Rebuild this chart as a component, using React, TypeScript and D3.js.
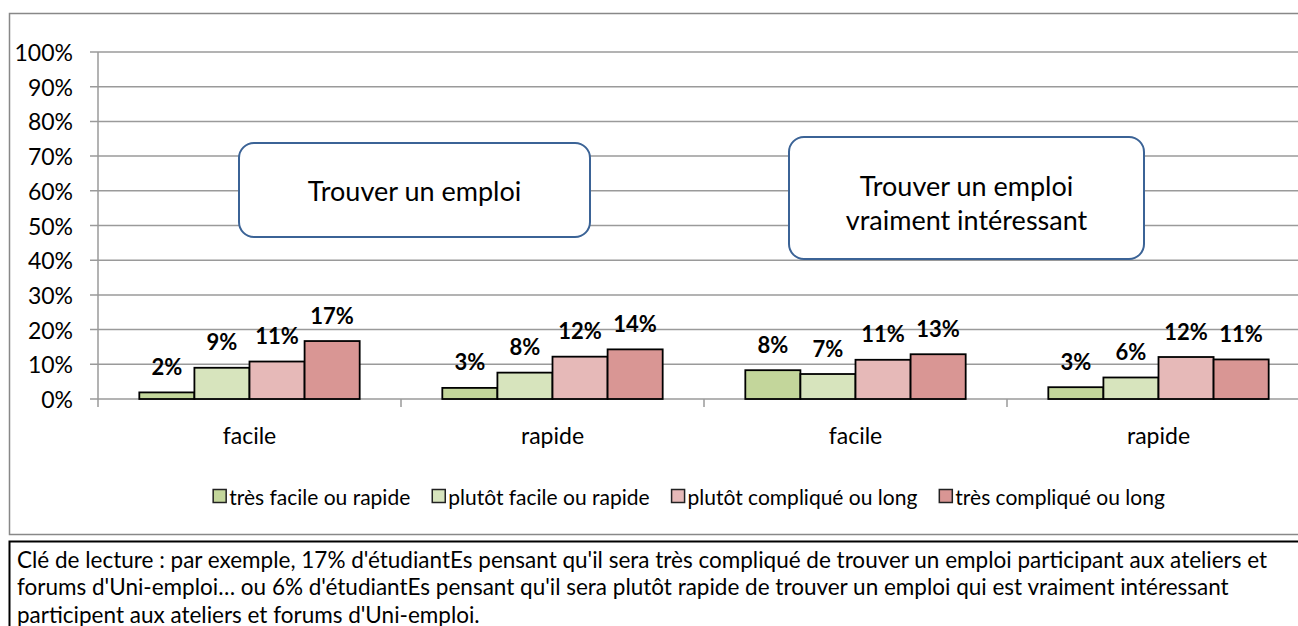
import React from "react";
import * as d3 from "d3";

const categories = ["facile", "rapide", "facile", "rapide"];
const seriesNames = [
  "très facile ou rapide",
  "plutôt facile ou rapide",
  "plutôt compliqué ou long",
  "très compliqué ou long",
];
const tresFacile = [1.9, 3.2, 8.3, 3.4];
const plutotFacile = [9.0, 7.6, 7.2, 6.2];
const plutotComplique = [10.8, 12.2, 11.3, 12.1];
const tresComplique = [16.7, 14.3, 12.9, 11.4];
const seriesColors = ["#C3D69B", "#D7E4BD", "#E6B9B8", "#D99694"];
const yTicks = [0, 10, 20, 30, 40, 50, 60, 70, 80, 90, 100];
const calloutTitles = [["Trouver un emploi"], ["Trouver un emploi", "vraiment intéressant"]];
const footnoteLines = [
  "Clé de lecture : par exemple, 17% d'étudiantEs pensant qu'il sera très compliqué de trouver un emploi participant aux ateliers et",
  "forums d'Uni-emploi… ou 6% d'étudiantEs pensant qu'il sera plutôt rapide de trouver un emploi qui est vraiment intéressant",
  "participent aux ateliers et forums d'Uni-emploi.",
];

const W = 1298;
const H = 626;
const FONT = "Lato, 'Open Sans', sans-serif";
const LEGEND_FS = 21;

function measure(text: string, size: number): number {
  if (typeof document === "undefined") return text.length * size * 0.45;
  const c = document.createElement("canvas").getContext("2d");
  if (!c) return text.length * size * 0.45;
  c.font = `${size}px Lato`;
  return c.measureText(text).width;
}

export default function App() {
  const values = [tresFacile, plutotFacile, plutotComplique, tresComplique];
  const plotLeft = 98;
  const plotRight = 1310;
  const plotTop = 52;
  const plotBottom = 399;

  const x0 = d3
    .scaleBand<number>()
    .domain(categories.map((_, i) => i))
    .range([plotLeft, plotRight])
    .paddingInner(0)
    .paddingOuter(0);
  const x1 = d3
    .scaleBand<number>()
    .domain(seriesNames.map((_, i) => i))
    .range([0, x0.bandwidth()])
    .paddingInner(0)
    .paddingOuter(0.75);
  const y = d3.scaleLinear().domain([0, 100]).range([plotBottom, plotTop]);
  const fmt = (v: number) => `${Math.round(v)}%`;

  const boundaries = d3.range(categories.length + 1).map((i) =>
    i < categories.length ? (x0(i) as number) : plotRight
  );

  const callouts = [
    { x: 239, y: 143, w: 351, h: 94, cy: 190 },
    { x: 789, y: 137, w: 355, h: 122, cy: 202 },
  ];

  // legend layout: square, small gap, text, gap between items, centred
  const sq = 13;
  const sqGap = 3;
  const itemGap = 22;
  const widths = seriesNames.map((s) => measure(s, LEGEND_FS));
  const total =
    widths.reduce((a, b) => a + b, 0) + seriesNames.length * (sq + sqGap) + (seriesNames.length - 1) * itemGap;
  const legendCenter = 689;
  let cursor = legendCenter - total / 2;
  const legendItems = widths.map((w) => {
    const item = { sq: cursor, tx: cursor + sq + sqGap };
    cursor += sq + sqGap + w + itemGap;
    return item;
  });

  return (
    <svg
      width={W}
      height={H}
      style={{ position: "absolute", left: 0, top: 0, background: "#fff" }}
      fontFamily={FONT}
    >
      <rect x={0} y={0} width={W} height={H} fill="#fff" />
      {/* chart border */}
      <rect x={9.5} y={13.5} width={1320} height={521} fill="#fff" stroke="#888" strokeWidth={1.5} />

      {/* gridlines */}
      {yTicks.map((t) => (
        <line
          key={"g" + t}
          x1={plotLeft - 8}
          x2={plotRight}
          y1={y(t)}
          y2={y(t)}
          stroke="#9a9a9a"
          strokeWidth={1.5}
        />
      ))}
      {/* y axis */}
      <line x1={plotLeft} x2={plotLeft} y1={plotTop} y2={plotBottom + 8} stroke="#9a9a9a" strokeWidth={1.5} />
      {yTicks.map((t) => (
        <text
          key={"yt" + t}
          x={73}
          y={y(t)}
          textAnchor="end"
          dominantBaseline="central"
          fontSize={23}
          fill="#000"
        >
          {t}%
        </text>
      ))}
      {/* x ticks */}
      {boundaries.slice(1).map((b, i) => (
        <line key={"xt" + i} x1={b} x2={b} y1={plotBottom} y2={plotBottom + 8} stroke="#9a9a9a" strokeWidth={1.5} />
      ))}
      {categories.map((c, i) => (
        <text
          key={"cat" + i}
          x={(x0(i) as number) + x0.bandwidth() / 2}
          y={435}
          textAnchor="middle"
          dominantBaseline="central"
          fontSize={23}
        >
          {c}
        </text>
      ))}

      {/* bars */}
      {categories.map((_, ci) =>
        seriesNames.map((s, si) => {
          const v = values[si][ci];
          const bx = (x0(ci) as number) + (x1(si) as number);
          return (
            <rect
              key={`b${ci}-${si}`}
              x={bx}
              y={y(v)}
              width={x1.bandwidth()}
              height={plotBottom - y(v)}
              fill={seriesColors[si]}
              stroke="#000"
              strokeWidth={1.8}
            />
          );
        })
      )}
      {/* labels */}
      {categories.map((_, ci) =>
        seriesNames.map((s, si) => {
          const v = values[si][ci];
          const bx = (x0(ci) as number) + (x1(si) as number) + x1.bandwidth() / 2;
          return (
            <text
              key={`l${ci}-${si}`}
              x={bx}
              y={y(v) - 26}
              textAnchor="middle"
              dominantBaseline="central"
              fontSize={22}
              fontWeight="bold"
            >
              {fmt(v)}
            </text>
          );
        })
      )}

      {/* callouts */}
      {callouts.map((c, i) => (
        <g key={"co" + i}>
          <rect
            x={c.x}
            y={c.y}
            width={c.w}
            height={c.h}
            rx={15}
            ry={15}
            fill="#fff"
            stroke="#3B6396"
            strokeWidth={2}
          />
          {calloutTitles[i].map((line, li) => (
            <text
              key={li}
              x={c.x + c.w / 2}
              y={c.cy + (li - (calloutTitles[i].length - 1) / 2) * 34}
              textAnchor="middle"
              dominantBaseline="central"
              fontSize={27}
            >
              {line}
            </text>
          ))}
        </g>
      ))}

      {/* legend */}
      {seriesNames.map((s, i) => (
        <g key={"lg" + i}>
          <rect
            x={legendItems[i].sq}
            y={489.5}
            width={sq}
            height={sq}
            fill={seriesColors[i]}
            stroke="#222"
            strokeWidth={1.5}
          />
          <text x={legendItems[i].tx} y={496} dominantBaseline="central" fontSize={LEGEND_FS}>
            {s}
          </text>
        </g>
      ))}

      {/* footnote */}
      <rect x={9.5} y={541.5} width={1320} height={100} fill="#fff" stroke="#000" strokeWidth={2} />
      {footnoteLines.map((l, i) => (
        <text key={"fn" + i} x={17} y={559 + i * 27.5} dominantBaseline="central" fontSize={22.5}>
          {l}
        </text>
      ))}
    </svg>
  );
}
